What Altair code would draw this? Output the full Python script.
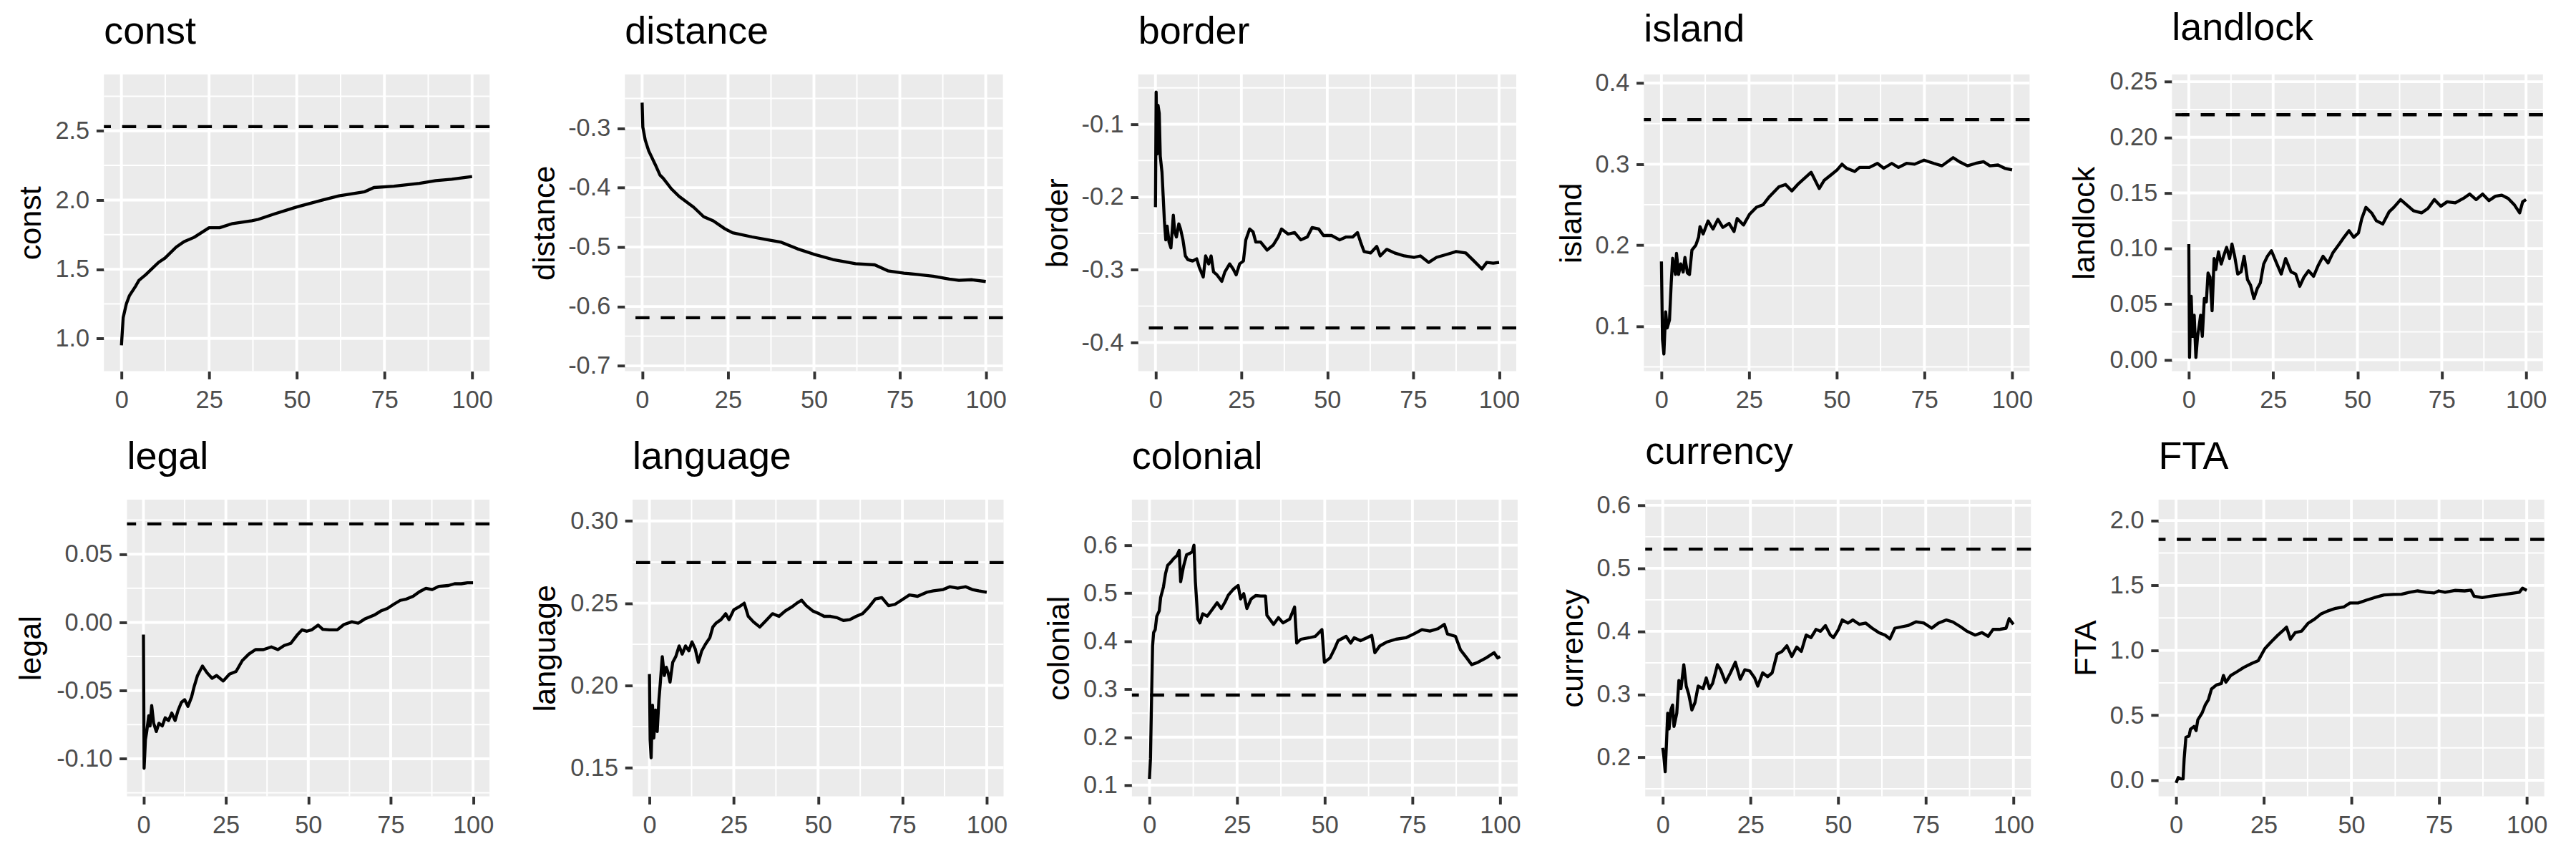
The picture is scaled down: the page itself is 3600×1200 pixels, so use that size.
import altair as alt
import pandas as pd

FONT = "Liberation Sans"

# ---------------- data ----------------
row1_names = ["const", "distance", "border", "island", "landlock"]
row2_names = ["legal", "language", "colonial", "currency", "FTA"]

const_x = [0, 0.5, 1.4, 2.3, 4.1, 5.0, 6.9, 10.6, 12.4, 15.6, 17.9, 20.7, 25.0, 28.0, 31.7, 37.2, 39.0, 43.7,
           50.0, 57.4, 62.0, 69.4, 72.0, 77.7, 85.0, 89.6, 94.2, 100]
const_y = [0.95, 1.15, 1.25, 1.31, 1.38, 1.42, 1.46, 1.55, 1.58, 1.66, 1.70, 1.73, 1.80, 1.80, 1.83, 1.85, 1.86,
           1.90, 1.95, 2.00, 2.03, 2.06, 2.09, 2.10, 2.12, 2.14, 2.15, 2.17]

distance_x = [0, 0.2, 0.9, 1.9, 3.8, 5.2, 6.1, 8.5, 10.8, 15.0, 17.9, 20.7, 24.0, 26.3, 32.0, 36.7, 40.5, 45.2,
              49.9, 55.5, 62.1, 67.7, 71.5, 76.2, 80.0, 84.7, 89.4, 92.2, 96.0, 100]
distance_y = [-0.257, -0.298, -0.320, -0.338, -0.361, -0.379, -0.384, -0.402, -0.415, -0.433, -0.449, -0.456,
              -0.469, -0.476, -0.483, -0.488, -0.492, -0.503, -0.512, -0.521, -0.528, -0.530, -0.540, -0.544,
              -0.546, -0.549, -0.554, -0.556, -0.555, -0.558]

border_x = [0, 0.2, 0.5, 0.75, 1.1, 1.4, 1.9, 2.6, 3.0, 3.4, 3.95, 4.5, 5.2, 5.6, 6.1, 6.8, 7.3, 8.0, 8.7, 9.4,
            10.8, 12.0, 12.7, 13.9, 14.6, 15.5, 16.2, 16.9, 17.9, 19.3, 20.2, 21.6, 22.6, 23.5, 24.5, 25.6, 26.3,
            27.4, 28.4, 29.2, 30.6, 32.5, 34.3, 35.7, 36.7, 38.6, 40.5, 42.3, 44.2, 45.6, 47.5, 48.9, 51.3, 53.6,
            55.5, 57.4, 58.8, 59.7, 60.7, 62.6, 64.4, 65.4, 67.3, 69.6, 72.4, 75.3, 77.1, 79.5, 81.8, 84.7, 87.5,
            90.3, 92.7, 95.0, 96.4, 98.3, 100]
border_y = [-0.214, -0.056, -0.141, -0.074, -0.085, -0.144, -0.166, -0.233, -0.259, -0.240, -0.262, -0.270,
            -0.225, -0.248, -0.255, -0.237, -0.244, -0.259, -0.281, -0.286, -0.288, -0.285, -0.296, -0.310,
            -0.281, -0.292, -0.281, -0.303, -0.307, -0.316, -0.303, -0.292, -0.299, -0.307, -0.292, -0.288,
            -0.259, -0.244, -0.248, -0.262, -0.262, -0.273, -0.266, -0.255, -0.244, -0.251, -0.249, -0.259,
            -0.255, -0.242, -0.244, -0.253, -0.253, -0.259, -0.255, -0.255, -0.249, -0.262, -0.275, -0.277,
            -0.268, -0.281, -0.272, -0.277, -0.281, -0.283, -0.281, -0.290, -0.283, -0.279, -0.275, -0.277,
            -0.288, -0.299, -0.290, -0.291, -0.290]

island_x = [0, 0.3, 0.7, 1.2, 1.65, 2.3, 2.8, 3.2, 4.0, 4.3, 4.9, 5.5, 6.2, 6.7, 7.4, 8.0, 8.7, 9.8, 10.6, 11.0,
            11.9, 13.3, 14.7, 16.1, 17.5, 19.3, 20.7, 21.6, 23.4, 25.1, 27.1, 29.0, 30.8, 33.5, 35.4, 37.2, 39.1,
            40.9, 42.7, 45.0, 46.4, 48.7, 50.1, 51.5, 52.8, 55.1, 56.5, 59.3, 61.6, 63.4, 65.7, 67.6, 69.9, 72.2,
            74.9, 77.7, 80.0, 83.2, 85.0, 87.3, 89.6, 91.9, 93.7, 96.0, 97.9, 100]
island_y = [0.180, 0.084, 0.066, 0.118, 0.098, 0.108, 0.154, 0.184, 0.164, 0.190, 0.164, 0.177, 0.167, 0.185,
            0.166, 0.164, 0.194, 0.200, 0.210, 0.223, 0.214, 0.230, 0.220, 0.232, 0.222, 0.227, 0.217, 0.233,
            0.225, 0.238, 0.247, 0.250, 0.260, 0.272, 0.275, 0.267, 0.276, 0.283, 0.290, 0.270, 0.280, 0.288,
            0.293, 0.300, 0.295, 0.291, 0.296, 0.296, 0.301, 0.295, 0.301, 0.296, 0.301, 0.300, 0.305, 0.301,
            0.298, 0.308, 0.303, 0.298, 0.301, 0.303, 0.298, 0.299, 0.295, 0.293]

landlock_x = [0, 0.2, 0.7, 1.1, 1.6, 2.1, 2.6, 3.1, 3.5, 4.0, 4.6, 5.2, 5.7, 6.3, 6.9, 7.5, 8.0, 8.8, 9.6, 10.3,
              11.2, 12.1, 12.8, 13.6, 14.5, 15.5, 16.4, 17.4, 18.3, 19.3, 20.3, 21.2, 22.2, 23.3, 24.5, 26.0,
              27.4, 28.7, 30.3, 31.7, 32.9, 34.1, 35.5, 37.0, 38.4, 39.8, 41.3, 42.7, 44.6, 46.0, 47.5, 48.9,
              50.3, 51.3, 52.5, 54.2, 55.6, 57.5, 59.4, 60.8, 62.8, 64.7, 66.6, 69.0, 70.9, 72.8, 74.7, 76.6,
              79.0, 81.4, 83.3, 85.2, 87.1, 89.0, 90.9, 92.8, 94.7, 96.6, 98.1, 99.0, 100]
landlock_y = [0.104, 0.002, 0.057, 0.021, 0.040, 0.002, 0.021, 0.031, 0.040, 0.021, 0.055, 0.052, 0.078, 0.074,
              0.044, 0.091, 0.081, 0.097, 0.086, 0.093, 0.101, 0.091, 0.104, 0.093, 0.077, 0.079, 0.093, 0.072,
              0.067, 0.055, 0.064, 0.069, 0.086, 0.093, 0.098, 0.087, 0.077, 0.091, 0.079, 0.077, 0.066, 0.074,
              0.080, 0.075, 0.085, 0.093, 0.087, 0.096, 0.104, 0.110, 0.116, 0.110, 0.114, 0.127, 0.137, 0.132,
              0.125, 0.122, 0.133, 0.137, 0.144, 0.139, 0.134, 0.132, 0.136, 0.144, 0.138, 0.142, 0.141, 0.145,
              0.149, 0.144, 0.149, 0.143, 0.147, 0.148, 0.145, 0.139, 0.132, 0.142, 0.144]

legal_x = [0, 0.2, 0.6, 1.0, 1.6, 2.0, 2.5, 3.1, 3.9, 4.7, 5.7, 6.6, 7.6, 8.6, 9.6, 10.5, 11.5, 12.5, 13.5, 14.6,
           15.4, 16.4, 17.9, 19.3, 20.8, 22.2, 24.2, 26.1, 28.1, 30.0, 32.0, 34.0, 36.4, 38.8, 40.8, 42.7, 44.7,
           46.6, 48.1, 49.6, 51.0, 53.0, 54.4, 56.4, 58.8, 60.8, 63.2, 65.2, 67.1, 70.0, 72.0, 74.0, 75.9, 77.9,
           79.8, 81.8, 83.7, 85.7, 87.6, 89.6, 92.5, 94.4, 96.4, 98.3, 100]
legal_y = [-0.009, -0.107, -0.086, -0.080, -0.0685, -0.076, -0.061, -0.074, -0.080, -0.074, -0.076, -0.070,
           -0.072, -0.0665, -0.072, -0.0646, -0.0587, -0.0567, -0.0616, -0.0547, -0.0469, -0.039, -0.032, -0.037,
           -0.041, -0.039, -0.043, -0.038, -0.036, -0.028, -0.0232, -0.020, -0.020, -0.018, -0.020, -0.017,
           -0.0154, -0.0094, -0.0055, -0.0065, -0.0055, -0.002, -0.0051, -0.0055, -0.0055, -0.0016, 0.0004,
           -0.0006, 0.0024, 0.0053, 0.0083, 0.0102, 0.0132, 0.0161, 0.0171, 0.0191, 0.0224, 0.025, 0.024,
           0.0264, 0.027, 0.0283, 0.0283, 0.029, 0.029]

language_x = [0, 0.2, 0.5, 0.9, 1.3, 1.8, 2.3, 2.8, 3.2, 3.8, 4.4, 5.0, 5.5, 6.1, 6.9, 7.8, 8.8, 9.7, 10.7, 11.7,
              12.6, 13.6, 14.5, 15.5, 16.6, 17.9, 18.8, 19.8, 21.2, 22.6, 23.6, 25.0, 26.5, 28.1, 29.3, 30.8,
              32.7, 34.6, 36.5, 38.4, 40.3, 42.2, 43.7, 45.1, 46.5, 48.4, 50.3, 51.8, 53.7, 55.6, 57.5, 59.4,
              61.3, 63.2, 65.1, 67.0, 68.9, 70.9, 72.8, 74.7, 77.1, 79.5, 82.3, 84.2, 87.1, 89.0, 91.4, 93.8,
              95.7, 97.6, 100]
language_y = [0.2069, 0.167, 0.156, 0.188, 0.168, 0.185, 0.172, 0.191, 0.201, 0.2175, 0.206, 0.211, 0.208,
              0.202, 0.214, 0.2175, 0.224, 0.219, 0.224, 0.221, 0.2265, 0.222, 0.214, 0.221, 0.225, 0.229,
              0.2355, 0.238, 0.240, 0.2436, 0.240, 0.246, 0.2477, 0.250, 0.242, 0.2387, 0.2355, 0.2395, 0.2436,
              0.242, 0.2453, 0.2477, 0.250, 0.2518, 0.2485, 0.2453, 0.2436, 0.242, 0.242, 0.2412, 0.2395, 0.240,
              0.242, 0.2436, 0.2477, 0.2526, 0.2534, 0.2485, 0.2493, 0.2518, 0.255, 0.2542, 0.2567, 0.2575,
              0.2583, 0.260, 0.2592, 0.260, 0.2583, 0.2575, 0.2567]

colonial_x = [0, 0.3, 0.6, 0.9, 1.2, 1.65, 2.1, 2.8, 3.2, 4.0, 4.6, 5.2, 6.0, 6.9, 7.8, 8.5, 8.9, 9.7, 10.6, 11.5,
              12.2, 12.7, 13.1, 13.8, 14.4, 15.2, 16.5, 17.9, 19.3, 20.5, 21.6, 22.5, 23.9, 25.3, 26.0, 26.9,
              27.8, 29.0, 30.3, 31.7, 33.1, 33.5, 35.4, 36.8, 38.1, 40.0, 41.4, 42.0, 43.2, 45.5, 47.3, 49.2,
              49.9, 51.5, 52.8, 53.8, 56.1, 57.4, 58.4, 60.2, 62.0, 63.4, 64.3, 65.7, 67.6, 70.3, 73.1, 75.4,
              77.7, 80.0, 82.3, 84.1, 85.0, 87.3, 88.7, 90.5, 91.9, 93.7, 96.0, 98.3, 99.3, 100]
colonial_y = [0.113, 0.155, 0.278, 0.390, 0.418, 0.424, 0.452, 0.463, 0.491, 0.513, 0.541, 0.558, 0.564, 0.572,
              0.578, 0.589, 0.524, 0.555, 0.580, 0.583, 0.586, 0.600, 0.524, 0.446, 0.438, 0.457, 0.452, 0.466,
              0.480, 0.468, 0.482, 0.496, 0.508, 0.516, 0.488, 0.499, 0.468, 0.488, 0.495, 0.494, 0.494, 0.454,
              0.435, 0.449, 0.438, 0.446, 0.471, 0.396, 0.404, 0.407, 0.410, 0.424, 0.356, 0.365, 0.384, 0.401,
              0.410, 0.396, 0.407, 0.401, 0.407, 0.412, 0.376, 0.390, 0.398, 0.404, 0.407, 0.415, 0.424, 0.421,
              0.426, 0.435, 0.415, 0.410, 0.382, 0.365, 0.351, 0.356, 0.365, 0.376, 0.365, 0.368]

currency_x = [0, 0.3, 0.7, 1.1, 1.4, 1.8, 2.3, 2.8, 3.2, 4.0, 4.6, 5.2, 6.0, 6.7, 7.4, 8.3, 9.2, 10.1, 11.5, 12.4,
              13.3, 14.2, 15.6, 16.5, 17.9, 19.3, 20.7, 22.1, 23.4, 24.8, 26.2, 27.1, 28.5, 29.9, 31.2, 32.6,
              34.0, 35.4, 36.8, 38.2, 39.5, 40.9, 42.3, 43.7, 45.0, 46.4, 47.8, 48.7, 50.1, 51.2, 52.8, 54.2,
              56.1, 57.9, 59.7, 61.6, 63.4, 64.8, 66.2, 68.0, 69.9, 72.2, 74.5, 76.7, 78.6, 80.9, 82.7, 85.0,
              86.8, 89.1, 91.0, 92.8, 94.2, 96.0, 97.9, 98.8, 100]
currency_y = [0.215, 0.202, 0.177, 0.228, 0.270, 0.245, 0.275, 0.283, 0.249, 0.270, 0.322, 0.309, 0.347, 0.313,
              0.300, 0.275, 0.287, 0.313, 0.309, 0.326, 0.309, 0.317, 0.347, 0.339, 0.319, 0.334, 0.351, 0.324,
              0.339, 0.337, 0.326, 0.313, 0.334, 0.328, 0.334, 0.364, 0.368, 0.377, 0.360, 0.375, 0.368, 0.394,
              0.390, 0.403, 0.400, 0.409, 0.394, 0.390, 0.403, 0.418, 0.413, 0.418, 0.411, 0.413, 0.405, 0.398,
              0.394, 0.388, 0.405, 0.407, 0.409, 0.415, 0.413, 0.405, 0.413, 0.418, 0.415, 0.407, 0.400, 0.394,
              0.398, 0.392, 0.403, 0.403, 0.405, 0.420, 0.411]

FTA_x = [0, 0.6, 1.4, 2.0, 2.3, 2.8, 3.7, 4.1, 5.1, 5.7, 6.2, 7.4, 8.3, 9.2, 10.1, 11.5, 12.9, 13.5, 14.2, 15.6,
         17.5, 19.3, 21.6, 23.4, 25.3, 27.1, 29.0, 30.3, 31.5, 32.6, 34.0, 35.8, 37.7, 39.5, 41.4, 43.2, 45.5,
         47.8, 49.6, 51.9, 54.2, 56.5, 59.3, 62.0, 64.3, 66.6, 68.9, 71.3, 73.6, 74.9, 76.7, 79.5, 82.3, 84.1,
         85.0, 87.3, 89.6, 92.4, 95.1, 97.9, 98.8, 100]
FTA_y = [-0.021, 0.021, 0.010, 0.010, 0.165, 0.331, 0.341, 0.393, 0.414, 0.383, 0.465, 0.517, 0.579, 0.620,
         0.703, 0.734, 0.745, 0.807, 0.755, 0.807, 0.838, 0.869, 0.900, 0.920, 1.013, 1.065, 1.117, 1.148, 1.179,
         1.086, 1.138, 1.148, 1.210, 1.241, 1.282, 1.303, 1.324, 1.334, 1.365, 1.365, 1.386, 1.406, 1.427, 1.431,
         1.433, 1.448, 1.458, 1.448, 1.442, 1.458, 1.448, 1.462, 1.458, 1.464, 1.417, 1.406, 1.417, 1.427, 1.437,
         1.448, 1.479, 1.462]

series = {
    "const": (const_x, const_y), "distance": (distance_x, distance_y), "border": (border_x, border_y),
    "island": (island_x, island_y), "landlock": (landlock_x, landlock_y), "legal": (legal_x, legal_y),
    "language": (language_x, language_y), "colonial": (colonial_x, colonial_y),
    "currency": (currency_x, currency_y), "FTA": (FTA_x, FTA_y),
}

# dashed reference value per panel
ref_value = {"const": 2.53, "distance": -0.619, "border": -0.380, "island": 0.355, "landlock": 0.2203,
             "legal": 0.0722, "language": 0.2747, "colonial": 0.2876, "currency": 0.5305, "FTA": 1.855}

# axis ticks
x_major = [0, 25, 50, 75, 100]
x_minor = [12.5, 37.5, 62.5, 87.5]
y_major = {
    "const": [1.0, 1.5, 2.0, 2.5], "distance": [-0.7, -0.6, -0.5, -0.4, -0.3],
    "border": [-0.4, -0.3, -0.2, -0.1], "island": [0.1, 0.2, 0.3, 0.4],
    "landlock": [0.0, 0.05, 0.10, 0.15, 0.20, 0.25], "legal": [-0.10, -0.05, 0.0, 0.05],
    "language": [0.15, 0.20, 0.25, 0.30], "colonial": [0.1, 0.2, 0.3, 0.4, 0.5, 0.6],
    "currency": [0.2, 0.3, 0.4, 0.5, 0.6], "FTA": [0.0, 0.5, 1.0, 1.5, 2.0],
}
y_minor = {
    "const": [1.25, 1.75, 2.25, 2.75], "distance": [-0.65, -0.55, -0.45, -0.35, -0.25],
    "border": [-0.35, -0.25, -0.15, -0.05], "island": [0.05, 0.15, 0.25, 0.35],
    "landlock": [0.025, 0.075, 0.125, 0.175, 0.225], "legal": [-0.125, -0.075, -0.025, 0.025, 0.075],
    "language": [0.175, 0.225, 0.275], "colonial": [0.15, 0.25, 0.35, 0.45, 0.55, 0.65],
    "currency": [0.15, 0.25, 0.35, 0.45, 0.55], "FTA": [0.25, 0.75, 1.25, 1.75],
}
y_format = {"const": ".1f", "distance": ".1f", "border": ".1f", "island": ".1f", "landlock": ".2f",
            "legal": ".2f", "language": ".2f", "colonial": ".1f", "currency": ".1f", "FTA": ".1f"}
y_domain = {
    "const": [0.763, 2.907], "distance": [-0.709, -0.2096], "border": [-0.4395, -0.0317],
    "island": [0.0447, 0.4106], "landlock": [-0.0104, 0.2565], "legal": [-0.1276, 0.090],
    "language": [0.1325, 0.313], "colonial": [0.0765, 0.695], "currency": [0.138, 0.609],
    "FTA": [-0.124, 2.161],
}

# ---------------- layout (pixels) ----------------
plot_left = {"const": 147, "distance": 158, "border": 158, "island": 147, "landlock": 168,
             "legal": 180, "language": 168, "colonial": 147, "currency": 147, "FTA": 147}
PLOT_RIGHT = 697
LABEL_LEFT = 78
PLOT_H = 423
H_SPACING = 52
V_SPACING = 29
TITLE_SIZE = 55
TITLE_OFFSET = 30
# invisible spacer at the end of row 1; with centred rows it moves row 2 right of row 1
ROW1_TAIL = 33

BG = "#EBEBEB"


def panel(name):
    xs, ys = series[name]
    n = min(len(xs), len(ys))
    width = PLOT_RIGHT - plot_left[name]
    extent = plot_left[name] - LABEL_LEFT
    fmt = y_format[name]
    xscale = alt.Scale(domain=[-5, 105], nice=False, zero=False)
    yscale = alt.Scale(domain=y_domain[name], nice=False, zero=False)
    yaxis = alt.Axis(values=y_major[name],
                     labelExpr="replace(format(datum.value, '" + fmt + "'), '\u2212', '-')",
                     minExtent=extent, maxExtent=extent)
    xaxis = alt.Axis(values=x_major, format="d")

    def X(f):
        return alt.X(f + ":Q", scale=xscale, axis=xaxis, title=None)

    def Y(f):
        return alt.Y(f + ":Q", scale=yscale, axis=yaxis, title=name)

    ymin = alt.Chart(pd.DataFrame({"g": y_minor[name]})).mark_rule(
        color="white", strokeWidth=2).encode(y=Y("g"))
    ymaj = alt.Chart(pd.DataFrame({"g": y_major[name]})).mark_rule(
        color="white", strokeWidth=4).encode(y=Y("g"))
    xmin = alt.Chart(pd.DataFrame({"gx": x_minor})).mark_rule(
        color="white", strokeWidth=2).encode(x=X("gx"))
    xmaj = alt.Chart(pd.DataFrame({"gx": x_major})).mark_rule(
        color="white", strokeWidth=4).encode(x=X("gx"))
    ref = alt.Chart(pd.DataFrame({"r": [ref_value[name]]})).mark_rule(
        color="black", strokeWidth=4.4, strokeDash=[20, 16], strokeCap="butt").encode(y=Y("r"))
    line = alt.Chart(pd.DataFrame({"x": xs[:n], "y": ys[:n]})).mark_line(
        color="black", strokeWidth=4.4, strokeJoin="round").encode(x=X("x"), y=Y("y"))

    return alt.layer(ymin, ymaj, xmin, xmaj, ref, line).properties(
        width=width, height=PLOT_H, title=alt.TitleParams(text=name, anchor="start"))


tail = alt.Chart(pd.DataFrame({"a": [0]})).mark_point(opacity=0, size=0).encode(
    x=alt.X("a:Q", axis=None), y=alt.Y("a:Q", axis=None)
).properties(width=ROW1_TAIL, height=1,
             view=alt.ViewBackground(fill="transparent", stroke="transparent"))

row1_inner = alt.hconcat(*[panel(n) for n in row1_names], spacing=H_SPACING)
row1 = alt.hconcat(row1_inner, tail, spacing=0)
row2 = alt.hconcat(*[panel(n) for n in row2_names], spacing=H_SPACING)

chart = alt.vconcat(row1, row2, spacing=V_SPACING, center=True).properties(
    padding={"left": 14, "top": -7, "right": 0, "bottom": 5}
).configure(font=FONT).configure_view(
    fill=BG, stroke="transparent", strokeWidth=0
).configure_axis(
    domain=False, grid=False,
    labelFont=FONT, labelFontSize=35, labelColor="#4D4D4D",
    tickColor="#333333", tickWidth=4, tickSize=11,
    titleFont=FONT, titleFontSize=44, titleColor="black", titleFontWeight="normal",
    labelFlush=False, labelOverlap=False
).configure_axisY(
    labelPadding=10, titlePadding=21, titleBaseline="alphabetic"
).configure_axisX(
    labelPadding=13
).configure_title(
    font=FONT, fontSize=TITLE_SIZE, fontWeight="normal", color="black", anchor="start",
    baseline="alphabetic", offset=TITLE_OFFSET, frame="group"
)

chart.save("out.html", embed_options={"renderer": "svg", "actions": False})
